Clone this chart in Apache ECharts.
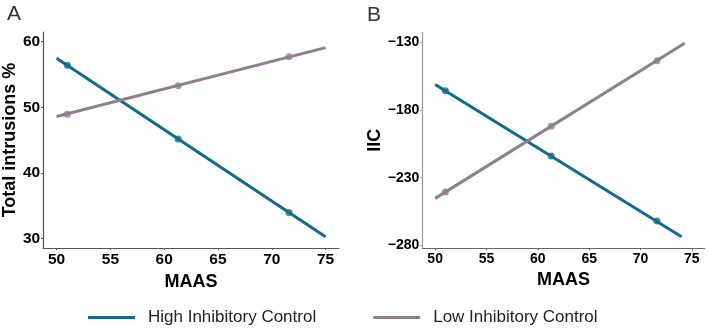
<!DOCTYPE html>
<html><head><meta charset="utf-8">
<script src="https://cdn.jsdelivr.net/npm/echarts@6/dist/echarts.min.js"></script>
<style>html,body{margin:0;padding:0;background:#fff}#c{width:708px;height:329px}</style>
</head><body><div id="c"></div>
<script>
// Data
const seriesNames = ['High Inhibitory Control', 'Low Inhibitory Control'];
const pointX = [51, 61.3, 71.6];
// Panel A: Total intrusions %
const lineA_x = [50, 75];
const lineA_high = [57.5, 30.3];
const lineA_low = [48.6, 59.1];
const ptsA_high = [56.4, 45.2, 34.0];
const ptsA_low = [48.95, 53.3, 57.7];
// Panel B: IIC
const lineB_high_x = [50, 74.0];
const lineB_high = [-161.1, -273.6];
const lineB_low_x = [50, 74.3];
const lineB_low = [-245.3, -130.7];
const ptsB_high = [-165.8, -214, -262];
const ptsB_low = [-240.6, -192.1, -143.6];
// Tick labels
const xTicks = [50, 55, 60, 65, 70, 75];
const yTicksA = [30, 40, 50, 60];
const yTicksB = [-280, -230, -180, -130];

const colHigh = '#136a8a', colLow = '#8e7e8e';
const pair = (xs, ys) => xs.map((x, i) => [x, ys[i]]);

function xAxis(gi, axisColor, fs) {
  return {
    type: 'value', gridIndex: gi, min: 48.75, max: 76.25,
    name: 'MAAS', nameLocation: 'middle', nameGap: 21,
    nameTextStyle: {fontFamily: 'Liberation Sans', fontWeight: 'bold', fontSize: 18, color: '#000'},
    axisLine: {show: true, lineStyle: {color: axisColor, width: 1.2}},
    axisTick: {show: true, length: 2, lineStyle: {color: axisColor}, customValues: xTicks},
    axisLabel: {customValues: xTicks, margin: 4, fontFamily: 'Liberation Sans', fontWeight: 'bold', fontSize: fs, color: '#000'},
    splitLine: {show: false}
  };
}
function yAxis(gi, min, max, ticks, name, gap, axisColor, fs) {
  return {
    type: 'value', gridIndex: gi, min: min, max: max,
    name: name, nameLocation: 'middle', nameGap: gap,
    nameTextStyle: {fontFamily: 'Liberation Sans', fontWeight: 'bold', fontSize: 18, color: '#000'},
    axisLine: {show: true, lineStyle: {color: axisColor, width: 1.2}},
    axisTick: {show: true, length: 2, lineStyle: {color: axisColor}, customValues: ticks},
    axisLabel: {customValues: ticks, margin: 3, fontFamily: 'Liberation Sans', fontWeight: 'bold', fontSize: fs, color: '#000',
      formatter: v => String(v).replace('-', '\u2212')},
    splitLine: {show: false}
  };
}
function lineSeries(name, xi, data, color) {
  return {name: name, type: 'line', xAxisIndex: xi, yAxisIndex: xi, data: data, showSymbol: false,
    symbol: 'none', lineStyle: {color: color, width: 3}, itemStyle: {color: color}, animation: false, silent: true};
}
function ptSeries(name, xi, data, color) {
  return {name: name, type: 'scatter', xAxisIndex: xi, yAxisIndex: xi, data: data, symbolSize: 7,
    itemStyle: {color: color}, animation: false, silent: true};
}

const chart = echarts.init(document.getElementById('c'), null, {renderer: 'canvas'});
chart.setOption({
  backgroundColor: '#fff',
  animation: false,
  title: [
    {text: 'A', left: 2, top: -1, textStyle: {fontFamily: 'Liberation Sans', fontWeight: 'normal', fontSize: 21, color: '#333'}},
    {text: 'B', left: 362, top: 0, textStyle: {fontFamily: 'Liberation Sans', fontWeight: 'normal', fontSize: 21, color: '#333'}}
  ],
  grid: [
    {left: 40.7, top: 32, width: 298.3, height: 216},
    {left: 422.3, top: 32.3, width: 282.4, height: 216}
  ],
  xAxis: [xAxis(0, '#555', 15.5), xAxis(1, '#666', 14)],
  yAxis: [
    yAxis(0, 28.58, 61.48, yTicksA, 'Total intrusions %', 19, '#555', 15.5),
    yAxis(1, -282.2, -122.6, yTicksB, 'IIC', 38, '#9a9a9a', 14)
  ],
  legend: {
    data: seriesNames, left: 88, top: 309, padding: 0, icon: 'rect', itemWidth: 47, itemHeight: 3, itemGap: 57,
    textStyle: {fontFamily: 'Liberation Sans', fontSize: 17, color: '#222', padding: [0, 0, 0, 8]},
    selectedMode: false
  },
  series: [
    lineSeries(seriesNames[0], 0, pair(lineA_x, lineA_high), colHigh),
    lineSeries(seriesNames[1], 0, pair(lineA_x, lineA_low), colLow),
    ptSeries(seriesNames[0], 0, pair(pointX, ptsA_high), colHigh),
    ptSeries(seriesNames[1], 0, pair(pointX, ptsA_low), colLow),
    lineSeries(seriesNames[0], 1, pair(lineB_high_x, lineB_high), colHigh),
    lineSeries(seriesNames[1], 1, pair(lineB_low_x, lineB_low), colLow),
    ptSeries(seriesNames[0], 1, pair(pointX, ptsB_high), colHigh),
    ptSeries(seriesNames[1], 1, pair(pointX, ptsB_low), colLow)
  ]
});
</script></body></html>
